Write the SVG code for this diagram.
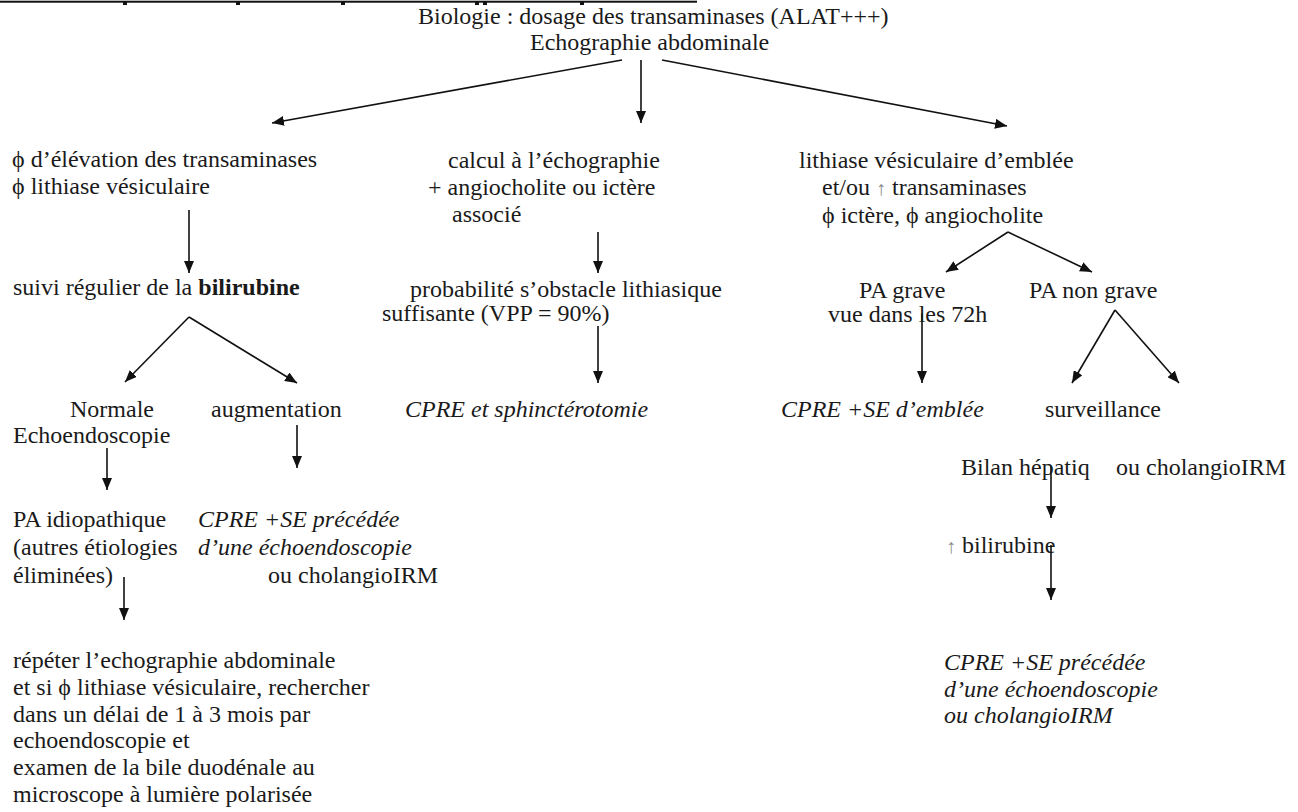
<svg xmlns="http://www.w3.org/2000/svg" width="1298" height="812" viewBox="0 0 1298 812">
<style>
text{font-family:"Liberation Serif","DejaVu Serif",serif;font-size:24px;fill:#1a1a1a}
.i{font-style:italic}
.b{font-weight:bold}
.up{fill:#8a8a8a;font-size:20px}
.c line{stroke:#111;stroke-width:1.6;fill:none}
</style>
<defs>
<marker id="ah" viewBox="0 0 12 10" refX="12" refY="5" markerWidth="12" markerHeight="10" markerUnits="userSpaceOnUse" orient="auto">
<path d="M0,0 L12,5 L0,10 z" fill="#111"/>
</marker>
</defs>
<rect width="1298" height="812" fill="#fff"/>
<g id="title-cut">
<rect x="0" y="0.7" width="697" height="2" fill="#111"/>
<rect x="123" y="1" width="4" height="4" fill="#111"/>
<rect x="236" y="1" width="4" height="4" fill="#111"/>
<rect x="341" y="1" width="4" height="4" fill="#111"/>
<rect x="475" y="1" width="4" height="4" fill="#111"/>
<rect x="483" y="1" width="4" height="4" fill="#111"/>
<rect x="580" y="1" width="4" height="4" fill="#111"/>
</g>
<g class="c" id="connectors">
<line x1="622" y1="60" x2="272" y2="123" marker-end="url(#ah)"/>
<line x1="641" y1="60" x2="641" y2="123" marker-end="url(#ah)"/>
<line x1="662" y1="60" x2="1007" y2="126" marker-end="url(#ah)"/>
<line x1="189" y1="210" x2="189" y2="273" marker-end="url(#ah)"/>
<line x1="189" y1="317" x2="125" y2="382" marker-end="url(#ah)"/>
<line x1="189" y1="317" x2="297" y2="383" marker-end="url(#ah)"/>
<line x1="107" y1="448" x2="107" y2="490" marker-end="url(#ah)"/>
<line x1="297" y1="425" x2="297" y2="468" marker-end="url(#ah)"/>
<line x1="124" y1="577" x2="124" y2="620" marker-end="url(#ah)"/>
<line x1="598" y1="232" x2="598" y2="273" marker-end="url(#ah)"/>
<line x1="598" y1="326" x2="598" y2="383" marker-end="url(#ah)"/>
<line x1="1008" y1="232" x2="946" y2="272" marker-end="url(#ah)"/>
<line x1="1008" y1="232" x2="1092" y2="272" marker-end="url(#ah)"/>
<line x1="922" y1="313" x2="922" y2="383" marker-end="url(#ah)"/>
<line x1="1115" y1="310" x2="1072" y2="383" marker-end="url(#ah)"/>
<line x1="1115" y1="310" x2="1179" y2="383" marker-end="url(#ah)"/>
<line x1="1051" y1="466" x2="1051" y2="518" marker-end="url(#ah)"/>
<line x1="1051" y1="545" x2="1051" y2="600" marker-end="url(#ah)"/>
</g>
<g id="n-root">
<text x="418" y="24">Biologie : dosage des transaminases (ALAT+++)</text>
<text x="530" y="50">Echographie abdominale</text>
</g>
<g id="n-left1">
<text x="12" y="167">ϕ d’élévation des transaminases</text>
<text x="12" y="194">ϕ lithiase vésiculaire</text>
</g>
<g id="n-suivi">
<text x="13" y="295">suivi régulier de la <tspan class="b">bilirubine</tspan></text>
</g>
<g id="n-normale">
<text x="70" y="417">Normale</text>
<text x="13" y="443">Echoendoscopie</text>
</g>
<g id="n-augm">
<text x="211" y="417">augmentation</text>
</g>
<g id="n-idio">
<text x="13" y="527">PA idiopathique</text>
<text x="13" y="555">(autres étiologies</text>
<text x="13" y="583">éliminées)</text>
</g>
<g id="n-cpre-left">
<text x="198" y="527" class="i">CPRE +SE précédée</text>
<text x="198" y="555" class="i">d’une échoendoscopie</text>
<text x="268" y="583">ou cholangioIRM</text>
</g>
<g id="n-repeter">
<text x="13" y="668">répéter l’echographie abdominale</text>
<text x="13" y="695">et si ϕ lithiase vésiculaire, rechercher</text>
<text x="13" y="722">dans un délai de 1 à 3 mois par</text>
<text x="13" y="748">echoendoscopie et</text>
<text x="13" y="775">examen de la bile duodénale au</text>
<text x="13" y="802">microscope à lumière polarisée</text>
</g>
<g id="n-calcul">
<text x="448" y="168">calcul à l’échographie</text>
<text x="428" y="195">+ angiocholite ou ictère</text>
<text x="452" y="222">associé</text>
</g>
<g id="n-proba">
<text x="410" y="297">probabilité s’obstacle lithiasique</text>
<text x="382" y="321">suffisante (VPP = 90%)</text>
</g>
<g id="n-cpre-mid">
<text x="405" y="417" class="i">CPRE et sphinctérotomie</text>
</g>
<g id="n-lith">
<text x="799" y="168">lithiase vésiculaire d’emblée</text>
<text x="822" y="195">et/ou <tspan class="up">↑</tspan> transaminases</text>
<text x="822" y="223">ϕ ictère, ϕ angiocholite</text>
</g>
<g id="n-pagrave">
<text x="859" y="298">PA grave</text>
<text x="828" y="322">vue dans les 72h</text>
</g>
<g id="n-panongrave">
<text x="1029" y="298">PA non grave</text>
</g>
<g id="n-cpre-emblee">
<text x="781" y="417" class="i">CPRE +SE d’emblée</text>
</g>
<g id="n-surv">
<text x="1045" y="417">surveillance</text>
</g>
<g id="n-bilan">
<text x="961" y="475">Bilan hépatiq</text>
<text x="1116" y="475">ou cholangioIRM</text>
</g>
<g id="n-bili">
<text x="946" y="553"><tspan class="up">↑</tspan> bilirubine</text>
</g>
<g id="n-cpre-right">
<text x="944" y="670" class="i">CPRE +SE précédée</text>
<text x="944" y="697" class="i">d’une échoendoscopie</text>
<text x="944" y="723" class="i">ou cholangioIRM</text>
</g>
</svg>
